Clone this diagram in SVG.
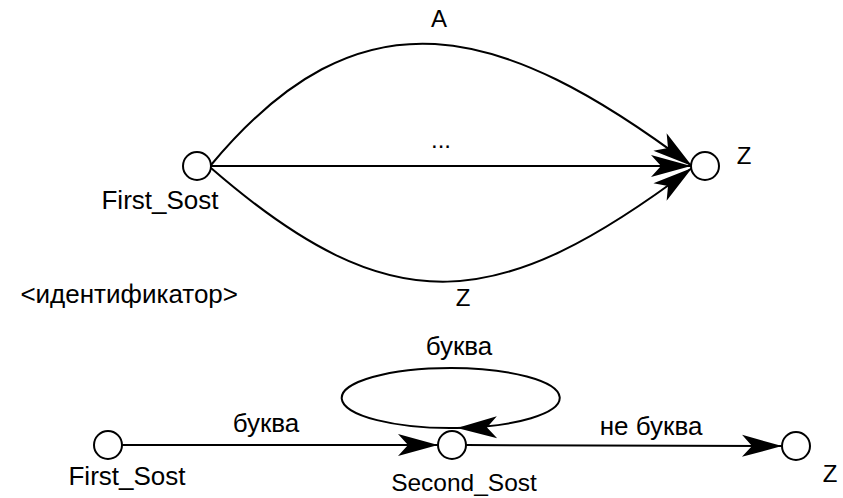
<svg xmlns="http://www.w3.org/2000/svg" width="843" height="498" viewBox="0 0 843 498">
<style>
.n{fill:#fff;stroke:#000;stroke-width:2}
.e{fill:none;stroke:#000;stroke-width:2;marker-end:url(#arr)}
text{font-family:"Liberation Sans",Arial,sans-serif;fill:#000}
.t24{font-size:24px}
.t25{font-size:24.5px}
.t26{font-size:26px}
</style>
<defs>
<marker id="arr" markerUnits="userSpaceOnUse" markerWidth="44" markerHeight="26" viewBox="-41 -13 44 26" refX="0" refY="0" orient="auto">
<path d="M0,0 L-40,-11 L-30,0 L-40,11 Z" fill="#000"/>
</marker>
</defs>
<rect width="843" height="498" fill="#fff"/>
<g id="edges">
<path class="e" d="M211,165 C360,-14 499,21 692,166"/>
<path class="e" d="M211,166 L691,166"/>
<path class="e" d="M211,168 C393,326 499,313 692,168"/>
<path class="e" d="M122,445 L438,445"/>
<path class="e" d="M466,445 L782,446"/>
<path class="e" d="M457,427.95 A109,30 0 1 1 451,368 A109,30 0 0 1 457,427.95"/>
</g>
<g id="labels">
<text class="t24" x="439" y="27" text-anchor="middle">A</text>
<text class="t24" x="441" y="148" text-anchor="middle">...</text>
<text class="t24" x="463" y="306" text-anchor="middle">Z</text>
<text class="t26" x="238" y="303" text-anchor="end">&lt;идентификатор&gt;</text>
<text class="t26" x="459" y="355" text-anchor="middle">буква</text>
<text class="t26" x="266" y="432" text-anchor="middle">буква</text>
<text class="t26" x="651" y="435" text-anchor="middle">не буква</text>
</g>
<g id="top_first">
<circle class="n" cx="197" cy="166" r="14"/>
<text class="t26" x="160" y="209" text-anchor="middle">First_Sost</text>
</g>
<g id="top_z">
<circle class="n" cx="705" cy="166" r="14"/>
<text class="t24" x="744" y="164" text-anchor="middle">Z</text>
</g>
<g id="bot_first">
<circle class="n" cx="108" cy="445" r="14"/>
<text class="t26" x="127" y="485" text-anchor="middle">First_Sost</text>
</g>
<g id="bot_second">
<circle class="n" cx="452" cy="445" r="14"/>
<text class="t25" x="464" y="491" text-anchor="middle">Second_Sost</text>
</g>
<g id="bot_z">
<circle class="n" cx="796" cy="446" r="14"/>
<text class="t24" x="830" y="482" text-anchor="middle">Z</text>
</g>
</svg>
